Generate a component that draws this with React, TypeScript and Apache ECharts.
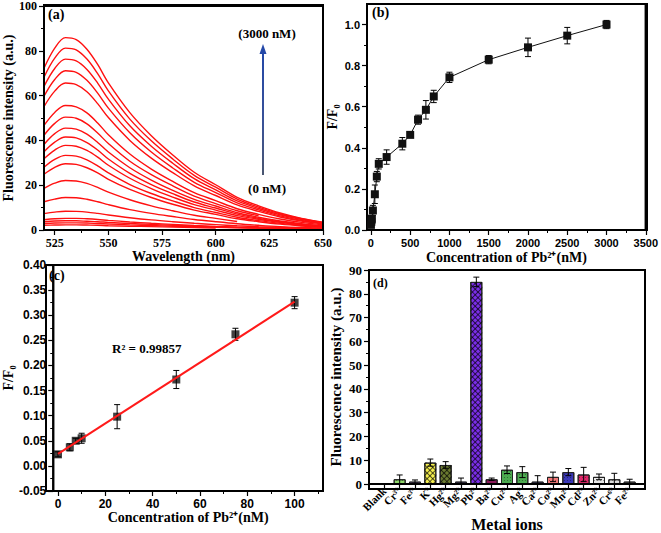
import React, { useEffect, useRef } from 'react';
import * as echarts from 'echarts';

// ---------- Panel (a): emission spectra ----------
const wavelengths = [520, 525, 530, 535, 540, 545, 550, 560, 570, 580, 590, 600, 610, 620, 630, 640, 650];
const spectra: (number | null)[][] = [
  [72.2, 81.2, 85.9, 85.0, 80.7, 73.9, 65.7, 52.4, 42.1, 33.5, 25.8, 20.2, 14.6, 10.8, 7.6, 5.2, 3.5],
  [68.2, 76.7, 81.2, 80.4, 76.3, 69.8, 62.1, 49.5, 39.8, 31.7, 24.4, 19.1, 13.8, 10.2, 7.2, 5.0, 3.3],
  [64.1, 72.1, 76.3, 75.5, 71.7, 65.6, 58.4, 46.5, 37.4, 29.8, 22.9, 17.9, 13.0, 9.6, 6.8, 4.7, 3.1],
  [59.7, 67.2, 71.1, 70.4, 66.8, 61.1, 54.4, 43.4, 34.8, 27.7, 21.3, 16.7, 12.1, 9.0, 6.3, 4.3, 2.9],
  [55.1, 62.0, 65.6, 64.9, 61.7, 56.4, 50.2, 40.0, 32.1, 25.6, 19.7, 15.4, 11.2, 8.3, 5.8, 4.0, 2.7],
  [46.7, 52.5, 55.6, 55.0, 52.3, 47.8, 42.5, 33.9, 27.2, 21.7, 16.7, 13.1, 9.5, 7.0, 4.9, 3.4, 2.3],
  [42.3, 47.6, 50.4, 49.9, 47.4, 43.3, 38.6, 30.7, 24.7, 19.7, 15.1, 11.8, 8.6, 6.4, null, null, null],
  [38.2, 43.0, 45.5, 45.0, 42.8, 39.1, 34.8, 27.8, 22.3, 17.7, 13.7, 10.7, 7.7, 5.7, 4.0, 2.8, 1.9],
  [34.9, 39.2, 41.5, 41.1, 39.0, 35.7, 31.7, 25.3, 20.3, 16.2, 12.5, 9.8, 7.1, 5.2, 3.7, 2.5, 1.7],
  [31.8, 35.7, 37.8, 37.4, 35.5, 32.5, 28.9, 23.1, 18.5, 14.7, 11.3, 8.9, 6.4, 4.8, 3.4, 2.3, 1.6],
  [28.0, 31.5, 33.3, 33.0, 31.3, 28.6, 25.5, 20.3, 16.3, 13.0, 10.0, 7.8, 5.7, 4.2, 3.0, 2.0, 1.4],
  [24.9, 28.0, 29.6, 29.3, 27.8, 25.5, 22.6, 18.1, 14.5, 11.5, 8.9, 7.0, 5.0, 3.7, 2.6, 1.8, 1.2],
  [18.6, 20.9, 22.1, 21.9, 20.8, 19.0, 16.9, 13.5, 10.8, 8.6, 6.6, 5.2, 3.8, null, null, null, null],
  [12.6, 13.8, 14.5, 14.4, 13.7, 12.6, 11.3, 9.1, 7.4, 6.0, 4.7, 3.7, 2.8, 2.1, 1.5, 1.1, 0.8],
  [7.3, 8.0, 8.4, 8.3, 8.0, 7.4, 6.7, 5.5, 4.5, 3.7, 3.0, 2.4, 1.9, 1.5, 1.2, 0.9, 0.7],
  [4.6, 5.0, 5.2, 5.2, 5.0, 4.7, 4.3, 3.6, 3.0, 2.5, 2.0, 1.6, 1.3, 1.0, 0.8, 0.6, 0.5],
  [3.7, 4.0, 4.1, 4.1, 3.9, 3.7, 3.4, 2.9, 2.5, 2.1, 1.7, 1.4, 1.1, 0.9, 0.7, 0.6, 0.5],
  [2.9, 3.1, 3.2, 3.2, 3.1, 2.9, 2.7, 2.3, 2.0, 1.7, 1.4, 1.2, 1.0, 0.8, 0.6, 0.5, 0.4],
  [2.1, 2.2, 2.3, 2.3, 2.2, 2.1, 1.9, 1.7, 1.5, 1.3, 1.1, 0.9, null, null, null, null, null],
];
const aXTicks = [525, 550, 575, 600, 625, 650];
const aXMinor = [537.5, 562.5, 587.5, 612.5, 637.5];
const aYTicks = [0, 20, 40, 60, 80, 100];
const aYMinor = [10, 30, 50, 70, 90];

// ---------- Panel (b): F/F0 vs concentration ----------
const concB = [0, 5, 7.5, 10, 25, 50, 75, 100, 200, 400, 500, 600, 700, 800, 1000, 1500, 2000, 2500, 3000];
const ratioB = [0.025, 0.04, 0.05, 0.055, 0.095, 0.174, 0.26, 0.322, 0.355, 0.42, 0.463, 0.537, 0.585, 0.65, 0.743, 0.829, 0.889, 0.946, 1.0];
const errB = [0.008, 0.01, 0.01, 0.012, 0.025, 0.045, 0.025, 0.025, 0.035, 0.03, 0.008, 0.022, 0.045, 0.03, 0.025, 0.02, 0.045, 0.04, 0.02];
const bXTicks = [0, 500, 1000, 1500, 2000, 2500, 3000, 3500];
const bXMinor = [250, 750, 1250, 1750, 2250, 2750, 3250];
const bYTicks = [0, 0.2, 0.4, 0.6, 0.8, 1.0];
const bYMinor = [0.1, 0.3, 0.5, 0.7, 0.9];

// ---------- Panel (c): linear range ----------
const concC = [0, 5, 7.5, 10, 25, 50, 75, 100];
const ratioC = [0.023, 0.037, 0.05, 0.055, 0.098, 0.172, 0.262, 0.325];
const errC = [0.005, 0.007, 0.005, 0.01, 0.024, 0.018, 0.012, 0.012];
const fitX = [0, 100];
const fitY = [0.024, 0.327];
const cXTicks = [0, 20, 40, 60, 80, 100];
const cXMinor = [10, 30, 50, 70, 90, 110];
const cYTicks = [-0.05, 0, 0.05, 0.1, 0.15, 0.2, 0.25, 0.3, 0.35, 0.4];
const cYMinor = [-0.025, 0.025, 0.075, 0.125, 0.175, 0.225, 0.275, 0.325, 0.375];

// ---------- Panel (d): selectivity ----------
const ions = ['Blank', 'Cr³⁺', 'Fe³⁺', 'K⁺', 'Hg²⁺', 'Mg²⁺', 'Pb²⁺', 'Ba²⁺', 'Cu²⁺', 'Ag⁺', 'Ca²⁺', 'Co²⁺', 'Mn²⁺', 'Cd²⁺', 'Zn²⁺', 'Cr⁶⁺', 'Fe²⁺'];
const intensity = [0, 2, 1, 9, 8, 1, 85, 2, 6, 5, 1, 3, 5, 4, 3, 2, 1];
const intensityErr = [0, 1.8, 0.7, 1.5, 1.4, 1.5, 2, 0.5, 1.6, 2.3, 2.5, 2, 1.5, 3, 1.2, 2.5, 1];
const barColors = ['#ffffff', '#8fd86a', '#7a3ab8', '#f5ef4e', '#6b7b30', '#3a2a9a', '#7b2ee8', '#8b1a5a', '#4caa50', '#4caa50', '#2828a8', '#f07878', '#3a38b8', '#e0286a', '#e8e8e8', '#dddddd', '#999999'];
const crossHatched = [false, false, false, true, true, false, true, false, false, false, false, false, false, false, false, false, false];
const dYTicks = [0, 10, 20, 30, 40, 50, 60, 70, 80, 90];
const dYMinor = [5, 15, 25, 35, 45, 55, 65, 75, 85];
const dXTicks = [1, 2, 3, 4, 5, 6, 7, 8, 9, 10, 11, 12, 13, 14, 15, 16, 17];

const SERIF = "'Liberation Serif', 'Times New Roman', serif";
const SANS = "'Liberation Sans', Arial, sans-serif";

// plot rectangles (layout only)
const GRIDS = [
  { left: 44, top: 5, width: 279, height: 225 },
  { left: 367, top: 4, width: 280, height: 226 },
  { left: 46, top: 265, width: 277, height: 226 },
  { left: 369, top: 270, width: 276, height: 219 },
];
const GRID_AXES = [[0, 0], [2, 2], [4, 4], [6, 6]];
const GRID_ORIGINS = [[585, 50], [1750, 0.5], [50, 0.2], [9, 45]];

function mainAxis(grid: number, min: number, max: number, ticks: number[], font: string, size: number, extra: any = {}) {
  return {
    type: 'value', gridIndex: grid, min, max,
    axisLine: { show: false, onZero: false },
    splitLine: { show: false },
    axisTick: { show: true, customValues: ticks, length: 5, lineStyle: { color: '#000', width: 1.2 } },
    axisLabel: { show: true, customValues: ticks, color: '#000', fontFamily: font, fontWeight: 'bold', fontSize: size, margin: 7, formatter: (v: number) => String(v) },
    nameLocation: 'middle',
    nameTextStyle: { color: '#000', fontFamily: SERIF, fontWeight: 'bold', fontSize: 14 },
    ...extra,
  };
}
function minorAxis(grid: number, min: number, max: number, ticks: number[], position: string) {
  return {
    type: 'value', gridIndex: grid, min, max, position, offset: 0,
    axisLine: { show: false, onZero: false },
    splitLine: { show: false },
    axisLabel: { show: false },
    axisTick: { show: true, customValues: ticks, length: 3, lineStyle: { color: '#000', width: 1 } },
  };
}

function errorBars(xs: number[], ys: number[], errs: number[], xi: number, yi: number, cap: number) {
  return {
    type: 'custom', xAxisIndex: xi, yAxisIndex: yi, z: 4, clip: true,
    data: xs.map((x, i) => [x, ys[i] - errs[i], ys[i] + errs[i]]),
    encode: { x: 0, y: [1, 2] },
    renderItem: (_p: any, api: any) => {
      const x = api.value(0);
      const a = api.coord([x, api.value(1)]);
      const b = api.coord([x, api.value(2)]);
      const style = { stroke: '#000', lineWidth: 1 };
      return {
        type: 'group',
        children: [
          { type: 'line', shape: { x1: a[0], y1: a[1], x2: b[0], y2: b[1] }, style },
          { type: 'line', shape: { x1: a[0] - cap, y1: a[1], x2: a[0] + cap, y2: a[1] }, style },
          { type: 'line', shape: { x1: b[0] - cap, y1: b[1], x2: b[0] + cap, y2: b[1] }, style },
        ],
      };
    },
  };
}

function frameSeries(xi: number, yi: number, origin: number[]) {
  return {
    type: 'custom', xAxisIndex: xi, yAxisIndex: yi, z: 4, clip: false,
    data: [origin],
    encode: { x: 0, y: 1 },
    renderItem: (params: any) => {
      const c = params.coordSys;
      const x0 = c.x, y0 = c.y, x1 = c.x + c.width, y1 = c.y + c.height;
      const style = { stroke: '#000', lineWidth: 2 };
      return {
        type: 'group',
        children: [
          { type: 'line', shape: { x1: x0 - 1, y1: y0, x2: x1 + 1, y2: y0 }, style },
          { type: 'line', shape: { x1: x0 - 1, y1: y1, x2: x1 + 1, y2: y1 }, style },
          { type: 'line', shape: { x1: x0, y1: y0, x2: x0, y2: y1 }, style },
          { type: 'line', shape: { x1: x1, y1: y0, x2: x1, y2: y1 }, style },
        ],
      };
    },
  };
}

export default function App() {
  const ref = useRef<HTMLDivElement>(null);
  useEffect(() => {
    if (!ref.current) return;
    const chart = echarts.init(ref.current, undefined, { renderer: 'svg' });

    const series: any[] = [];
    spectra.forEach((s) => {
      series.push({
        type: 'line', xAxisIndex: 0, yAxisIndex: 0, smooth: 0.35, showSymbol: false,
        data: wavelengths.map((w, i) => [w, s[i]]),
        lineStyle: { color: '#ff1010', width: 1.4 },
      });
    });
    series.push(errorBars(concB, ratioB, errB, 2, 2, 3));
    series.push({
      type: 'line', xAxisIndex: 2, yAxisIndex: 2, symbol: 'rect', symbolSize: 8, z: 5,
      data: concB.map((c, i) => [c, ratioB[i]]),
      itemStyle: { color: '#111' }, lineStyle: { color: '#111', width: 1 },
    });
    series.push(errorBars(concC, ratioC, errC, 4, 4, 3));
    series.push({
      type: 'scatter', xAxisIndex: 4, yAxisIndex: 4, symbol: 'rect', symbolSize: 8, z: 3,
      data: concC.map((c, i) => [c, ratioC[i]]), itemStyle: { color: '#111' },
    });
    series.push({
      type: 'line', xAxisIndex: 4, yAxisIndex: 4, showSymbol: false, z: 6,
      data: fitX.map((x, i) => [x, fitY[i]]), lineStyle: { color: '#ff1a1a', width: 2 },
    });
    series.push({
      type: 'bar', xAxisIndex: 6, yAxisIndex: 6, barWidth: 12, barGap: '-100%', z: 2,
      data: intensity.map((v, i) => ({
        value: [i + 1, v],
        itemStyle: {
          color: barColors[i], borderColor: '#222', borderWidth: v > 0 ? 1 : 0,
          decal: crossHatched[i]
            ? { symbol: 'rect', symbolSize: 1, color: 'rgba(0,0,0,0.65)', dashArrayX: [1, 0], dashArrayY: [1, 3], rotation: Math.PI / 4 }
            : { symbol: 'rect', symbolSize: 1, color: 'rgba(0,0,0,0.35)', dashArrayX: [1, 2], dashArrayY: [1, 2] },
        },
      })),
    });
    series.push({
      type: 'bar', xAxisIndex: 6, yAxisIndex: 6, barWidth: 12, barGap: '-100%', z: 3,
      data: intensity.map((v, i) => ({
        value: crossHatched[i] ? [i + 1, v] : [i + 1, null],
        itemStyle: {
          color: 'rgba(0,0,0,0)',
          decal: { symbol: 'rect', symbolSize: 1, color: 'rgba(0,0,0,0.65)', dashArrayX: [1, 0], dashArrayY: [1, 3], rotation: -Math.PI / 4 },
        },
      })),
    });
    series.push(errorBars(dXTicks, intensity, intensityErr, 6, 6, 3));
    GRID_AXES.forEach(([xi, yi], k) => series.push(frameSeries(xi, yi, GRID_ORIGINS[k])));

    const tStyle = (size: number) => ({ fill: '#000', font: `bold ${size}px ${SERIF}` });
    const W = 2;
    const frames: any[] = [];
    GRIDS.forEach((g) => {
      [
        { x: g.left - W / 2, y: g.top - W / 2, width: g.width + W, height: W },
        { x: g.left - W / 2, y: g.top + g.height - W / 2, width: g.width + W, height: W },
        { x: g.left - W / 2, y: g.top - W / 2, width: W, height: g.height + W },
        { x: g.left + g.width - W / 2, y: g.top - W / 2, width: W, height: g.height + W },
      ].forEach((s) => frames.push({ type: 'rect', shape: s, style: { fill: '#000' } }));
    });

    chart.setOption({
      animation: false,
      backgroundColor: '#fff',
      grid: GRIDS.map((g) => ({ ...g, show: true, borderColor: '#000', borderWidth: 2, backgroundColor: 'rgba(0,0,0,0)' })),
      xAxis: [
        mainAxis(0, 520, 650, aXTicks, SERIF, 12, { name: 'Wavelength (nm)', nameGap: 17, position: 'bottom' }),
        minorAxis(0, 520, 650, aXMinor, 'bottom'),
        mainAxis(1, -50, 3500, bXTicks, SANS, 11, { name: 'Concentration of Pb²⁺(nM)', nameGap: 20, position: 'bottom' }),
        minorAxis(1, -50, 3500, bXMinor, 'bottom'),
        mainAxis(2, -2, 112, cXTicks, SANS, 12, { name: 'Concentration of Pb²⁺(nM)', nameGap: 19, position: 'bottom' }),
        minorAxis(2, -2, 112, cXMinor, 'bottom'),
        mainAxis(3, 0, 18, dXTicks, SERIF, 11, {
          name: 'Metal ions', nameGap: 32, position: 'bottom',
          nameTextStyle: { color: '#000', fontFamily: SERIF, fontWeight: 'bold', fontSize: 16 },
          axisLabel: {
            show: true, customValues: dXTicks, color: '#000', fontFamily: SERIF, fontWeight: 'bold', fontSize: 11,
            rotate: 45, margin: 5, hideOverlap: false, formatter: (v: number) => ions[Math.round(v) - 1] ?? '',
          },
        }),
      ],
      yAxis: [
        mainAxis(0, 0, 100, aYTicks, SERIF, 12, { name: 'Fluorescence intensity (a.u.)', nameGap: 21, position: 'left' }),
        minorAxis(0, 0, 100, aYMinor, 'left'),
        mainAxis(1, 0, 1.1, bYTicks, SANS, 11, {
          name: 'F/F₀', nameGap: 28, position: 'left',
          axisLabel: { show: true, customValues: bYTicks, color: '#000', fontFamily: SANS, fontWeight: 'bold', fontSize: 11, margin: 7, formatter: (v: number) => v.toFixed(1) },
        }),
        minorAxis(1, 0, 1.1, bYMinor, 'left'),
        mainAxis(2, -0.05, 0.4, cYTicks, SANS, 12, {
          name: 'F/F₀', nameGap: 33, position: 'left',
          axisLabel: { show: true, customValues: cYTicks, color: '#000', fontFamily: SANS, fontWeight: 'bold', fontSize: 12, margin: 7, formatter: (v: number) => v.toFixed(2) },
        }),
        minorAxis(2, -0.05, 0.4, cYMinor, 'left'),
        mainAxis(3, 0, 90, dYTicks, SERIF, 13, {
          name: 'Fluorescence intensity (a.u.)', nameGap: 26, position: 'left',
          nameTextStyle: { color: '#000', fontFamily: SERIF, fontWeight: 'bold', fontSize: 15 },
        }),
        minorAxis(3, 0, 90, dYMinor, 'left'),
      ],
      series,
      graphic: [
        ...frames,
        { type: 'text', left: 48, top: 7, style: { text: '(a)', ...tStyle(14) } },
        { type: 'text', left: 372, top: 5, style: { text: '(b)', ...tStyle(14) } },
        { type: 'text', left: 49, top: 268, style: { text: '(c)', ...tStyle(14) } },
        { type: 'text', left: 373, top: 277, style: { text: '(d)', ...tStyle(12) } },
        { type: 'text', x: 267, y: 33, style: { text: '(3000 nM)', ...tStyle(13), textAlign: 'center', textVerticalAlign: 'middle' } },
        { type: 'text', x: 267, y: 188, style: { text: '(0 nM)', ...tStyle(13), textAlign: 'center', textVerticalAlign: 'middle' } },
        {
          type: 'rect', shape: { x: 262, y: 52, width: 2, height: 123 },
          style: { fill: new echarts.graphic.LinearGradient(0, 0, 0, 1, [{ offset: 0, color: '#2448a8' }, { offset: 0.6, color: '#3a5296' }, { offset: 1, color: '#4a5670' }]) },
        },
        { type: 'polygon', shape: { points: [[263, 44], [259.5, 54], [266.5, 54]] }, style: { fill: '#2448a8' } },
        { type: 'text', x: 112, y: 348, style: { text: 'R² = 0.99857', ...tStyle(13), textVerticalAlign: 'middle' } },
      ],
    });
    return () => chart.dispose();
  }, []);
  return <div ref={ref} style={{ position: 'absolute', left: 0, top: 0, width: 661, height: 533 }} />;
}
